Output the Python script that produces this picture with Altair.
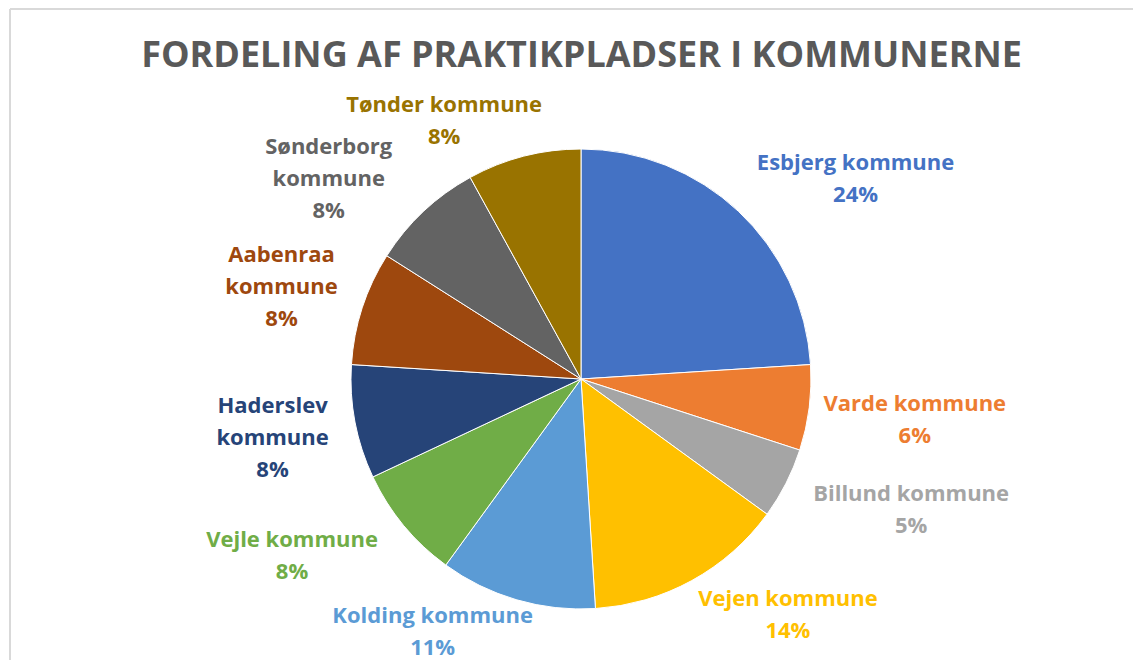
import altair as alt
import pandas as pd

# ---- data ----
kommuner = ["Esbjerg kommune", "Varde kommune", "Billund kommune", "Vejen kommune",
            "Kolding kommune", "Vejle kommune", "Haderslev kommune", "Aabenraa kommune",
            "Sønderborg kommune", "Tønder kommune"]
etiketter = ["Esbjerg kommune", "Varde kommune", "Billund kommune", "Vejen kommune",
             "Kolding kommune", "Vejle kommune", "Haderslev\nkommune", "Aabenraa\nkommune",
             "Sønderborg\nkommune", "Tønder kommune"]
andele = [24, 6, 5, 14, 11, 8, 8, 8, 8, 8]
farver = ["#4472C4", "#ED7D31", "#A5A5A5", "#FFC000", "#5B9BD5",
          "#70AD47", "#264478", "#9E480E", "#636363", "#997300"]
titel = "FORDELING AF PRAKTIKPLADSER I KOMMUNERNE"

df = pd.DataFrame({"kommune": kommuner, "etiket": etiketter, "andel": andele,
                   "idx": list(range(len(kommuner)))})
tdf = pd.DataFrame({"t": [titel]})

# ---- layout ----
W, H = 1125, 652
CX, CY, R = 573, 370, 230
A, K, CW = 245, 55, 6.5      # label distance, sideways push, half char width
RY, P = 266, 0.9
LH = 32
FONT = "Open Sans"

color = alt.Color("kommune:N", scale=alt.Scale(domain=kommuner, range=farver), legend=None)

pie = alt.Chart(df).mark_arc(outerRadius=R, stroke="white", strokeWidth=1).encode(
    theta=alt.Theta("andel:Q", stack=True),
    order=alt.Order("idx:Q"),
    color=color,
    x=alt.value(CX), y=alt.value(CY),
)

labels = alt.Chart(df).transform_joinaggregate(
    total="sum(andel)"
).transform_window(
    cum="sum(andel)", sort=[alt.SortField("idx")], frame=[None, 0]
).transform_calculate(
    mid="(datum.cum - datum.andel/2) / datum.total * 2 * PI",
    tekst="datum.etiket + '\\n' + format(datum.andel / datum.total, '.0%')",
    nl="length(split(datum.tekst, '\\n'))",
    hw=f"length(split(datum.etiket, '\\n')[0]) * {CW}",
    sx="sin(datum.mid) >= 0 ? 1 : -1",
    sy="cos(datum.mid) >= 0 ? 1 : -1",
    lx=f"{CX} + {A} * sin(datum.mid) + datum.sx * (abs(sin(datum.mid)) * datum.hw + {K} * abs(cos(datum.mid)))",
    ly0=f"{CY} - {RY} * datum.sy * pow(abs(cos(datum.mid)), {P}) - (datum.nl - 1) * {LH} / 2",
    ly=f"min(datum.ly0, {H} - (datum.nl - 1) * {LH} - 13)",
).mark_text(font=FONT, fontWeight="bold", fontSize=22, lineBreak="\n", lineHeight=LH,
            align="center", baseline="middle").encode(
    x=alt.X("lx:Q", scale=None, axis=None),
    y=alt.Y("ly:Q", scale=None, axis=None),
    text="tekst:N",
    color=color,
)

title = alt.Chart(tdf).mark_text(font=FONT, fontWeight="bold", fontSize=36, color="#595959",
                                  align="center", baseline="alphabetic").encode(
    text="t:N", x=alt.value(CX + 0.5), y=alt.value(58))

border_left = alt.Chart(tdf).mark_rule(color="#D9D9D9", strokeWidth=2).encode(
    x=alt.value(2), y=alt.value(0), y2=alt.value(H))
border_top = alt.Chart(tdf).mark_rule(color="#D9D9D9", strokeWidth=2).encode(
    x=alt.value(2), x2=alt.value(W), y=alt.value(0))
edge_right = alt.Chart(tdf).mark_rule(color="white", strokeWidth=4).encode(
    x=alt.value(W), y=alt.value(2), y2=alt.value(H))

chart = alt.layer(border_left, border_top, pie, labels, title, edge_right).properties(
    width=W, height=H, padding=0,
    autosize=alt.AutoSizeParams(type="fit", contains="padding"),
).configure_view(stroke="transparent", strokeWidth=0)

chart.save("out.html", embed_options={"renderer": "svg", "actions": False})
